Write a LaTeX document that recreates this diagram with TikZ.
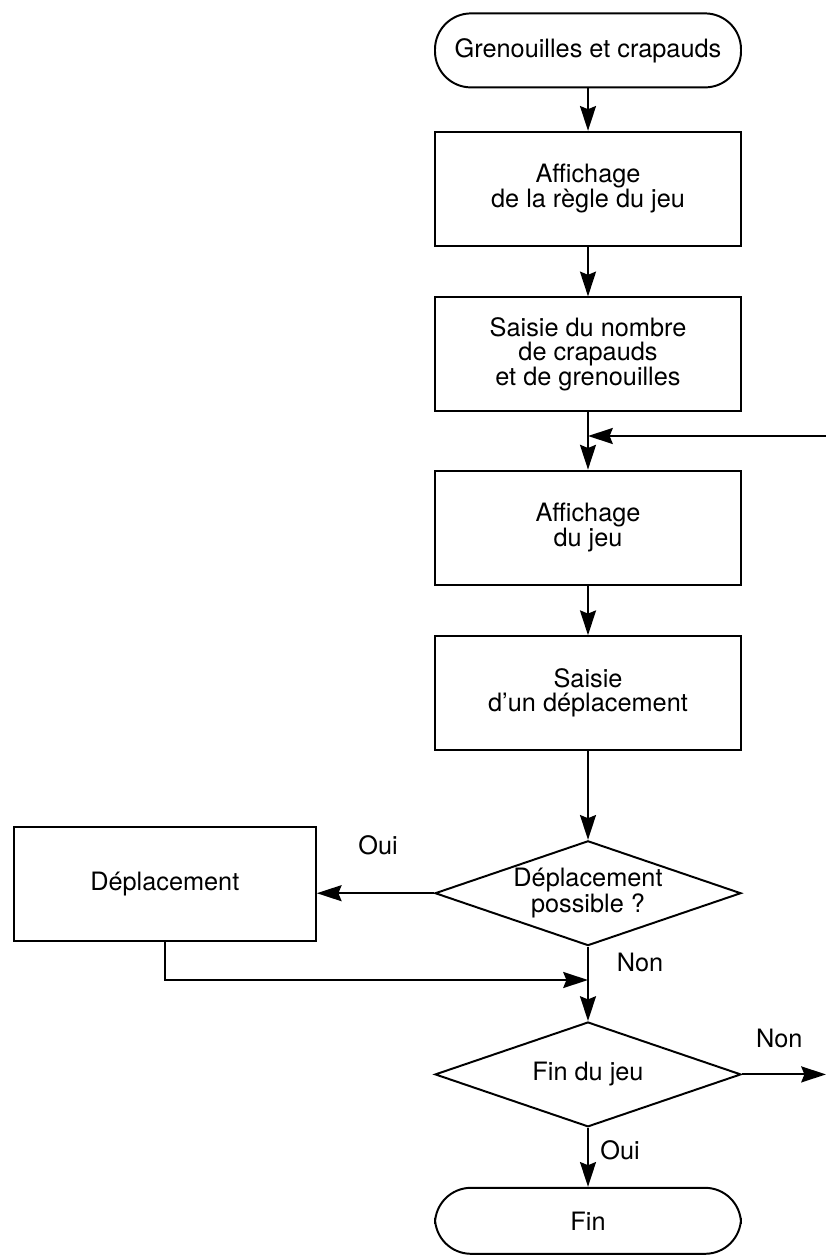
\documentclass[tikz,border=0pt]{standalone}
\usepackage{fontspec}
\setmainfont{TeX Gyre Heros}
\usetikzlibrary{arrows.meta, positioning, shapes.geometric, calc}

\begin{document}
\begin{tikzpicture}[
    txt/.style={font=\fontsize{18}{17}\selectfont},
    box/.style={draw, txt, line width=1.4pt, align=center,
                minimum width=7.65cm, minimum height=2.85cm},
    term/.style={draw, txt, line width=1.4pt, rounded corners=0.9cm,
                 minimum width=7.65cm, minimum height=1.85cm},
    test/.style={draw, txt, diamond, aspect=2.9, inner sep=0pt, align=center,
                 line width=1.4pt, minimum width=7.65cm, minimum height=2.62cm},
    flow/.style={->, line width=1.4pt},
    >={Stealth[length=0.62cm, width=0.4cm, inset=0.08cm]}
  ]
  \useasboundingbox (0,0) rectangle (20.65,-31.5);

  % main column
  \node[term] (start) at (14.7,-1.26) {Grenouilles et crapauds};
  \node[box] (regle) at (14.7,-4.72) {Affichage\\de la règle du jeu};
  \node[box] (nombre) at (14.7,-8.86) {Saisie du nombre\\de crapauds\\et de grenouilles};
  \node[box] (affjeu) at (14.7,-13.19) {Affichage\\du jeu};
  \node[box] (saisie) at (14.7,-17.33) {Saisie\\d'un déplacement};
  \node[test] (possible) at (14.7,-22.33) {Déplacement\\possible ?};
  \node[box, minimum width=7.55cm] (move) at (4.12,-22.1) {Déplacement};
  \node[test] (findujeu) at (14.7,-26.86) {Fin du jeu};
  \node[term, minimum height=1.65cm] (fin) at (14.7,-30.52) {Fin};

  \coordinate (retour) at (20.65,-10.9);
  \coordinate (merge) at (14.7,-24.5);
  \coordinate (sortie) at (findujeu.east -| retour);

  % labels
  \node[txt] (oui1) at (9.45,-21.12) {Oui};
  \node[txt] (non1) at (16.0,-24.05) {Non};
  \node[txt] (non2) at (19.48,-25.95) {Non};
  \node[txt] (oui2) at (15.5,-28.75) {Oui};

  \draw[flow] (start) -- (regle);
  \draw[flow] (regle) -- (nombre);
  \draw[flow] (nombre) -- (affjeu);
  \draw[flow] (retour) -- (retour -| nombre.south);
  \draw[flow] (affjeu) -- (saisie);
  \draw[flow] (saisie) -- (possible);
  \draw[flow] (possible.west) -- (possible.west -| move.east);
  \draw[flow] (move.south) |- (merge);
  \draw[flow] (possible) -- (findujeu);
  \draw[flow] (findujeu.east) -- (sortie);
  \draw[flow] (findujeu) -- (fin);
\end{tikzpicture}
\end{document}
